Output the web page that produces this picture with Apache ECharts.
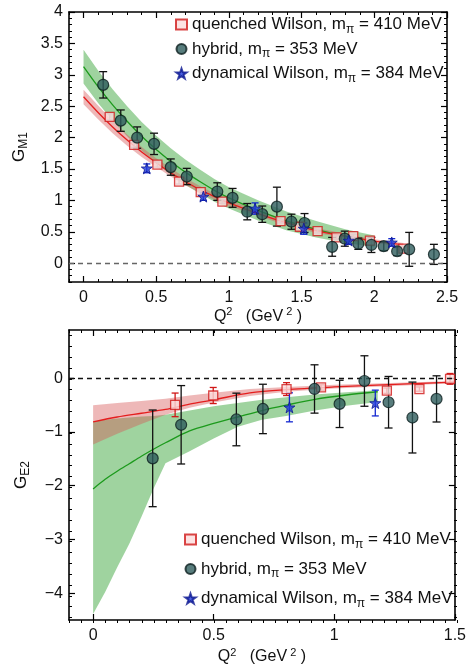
<!DOCTYPE html>
<html><head><meta charset="utf-8">
<script src="https://cdn.jsdelivr.net/npm/echarts@6/dist/echarts.min.js"></script>
<style>html,body{margin:0;padding:0;background:#fff}#c{width:469px;height:666px}</style>
</head><body><div id="c"></div><script>
// ---------- Top panel: G_M1 ----------
const nameQ = 'quenched Wilson, m_π = 410 MeV';
const nameH = 'hybrid, m_π = 353 MeV';
const nameD = 'dynamical Wilson, m_π = 384 MeV';

const m1HybX = [0.135,0.256,0.369,0.485,0.60,0.71,0.92,1.025,1.126,1.229,1.33,1.43,1.52,1.71,1.797,1.89,1.98,2.065,2.157,2.24,2.41];
const m1HybY = [2.84,2.27,2.00,1.90,1.53,1.38,1.14,1.04,0.82,0.78,0.90,0.66,0.64,0.26,0.39,0.31,0.29,0.27,0.19,0.22,0.14];
const m1HybE = [0.21,0.17,0.17,0.17,0.13,0.13,0.14,0.15,0.13,0.13,0.31,0.12,0.15,0.15,0.12,0.09,0.12,0.07,0.07,0.27,0.16];

const m1QX = [0.18,0.348,0.508,0.657,0.806,0.955,1.355,1.488,1.61,1.74,1.855,1.97,2.2];
const m1QY = [2.33,1.885,1.57,1.30,1.13,0.98,0.67,0.58,0.51,0.41,0.43,0.36,0.23];
const m1QE = [0.05,0.04,0.04,0.04,0.04,0.03,0.03,0.03,0.03,0.03,0.03,0.03,0.03];

const m1DX = [0.435,0.824,1.18,1.515,1.824,2.12];
const m1DY = [1.51,1.06,0.87,0.55,0.36,0.33];
const m1DE = [0.07,0.06,0.09,0.09,0.06,0.06];

const m1GreenX  = [0,0.1,0.2,0.3,0.4,0.5,0.6,0.7,0.8,0.9,1.0,1.2,1.4,1.6,1.8,2.0];
const m1GreenY  = [3.13,2.81,2.52,2.26,2.02,1.81,1.62,1.45,1.30,1.16,1.04,0.84,0.67,0.54,0.43,0.35];
const m1GreenUp = [3.40,3.07,2.77,2.50,2.25,2.03,1.83,1.65,1.49,1.34,1.21,1.00,0.82,0.67,0.54,0.44];
const m1GreenLo = [2.86,2.55,2.27,2.02,1.79,1.59,1.41,1.25,1.11,0.98,0.87,0.68,0.52,0.41,0.32,0.26];

const m1RedX  = [0,0.1,0.2,0.3,0.4,0.5,0.6,0.7,0.8,0.9,1.0,1.2,1.4,1.6,1.8,2.0,2.2];
const m1RedY  = [2.65,2.40,2.17,1.96,1.77,1.60,1.44,1.30,1.17,1.06,0.96,0.79,0.64,0.52,0.43,0.35,0.29];
const m1RedUp = [2.76,2.51,2.27,2.05,1.85,1.67,1.51,1.36,1.23,1.11,1.01,0.84,0.68,0.56,0.47,0.38,0.32];
const m1RedLo = [2.53,2.29,2.07,1.87,1.69,1.53,1.38,1.24,1.12,1.01,0.91,0.75,0.60,0.48,0.40,0.32,0.26];

const m1XTicks = [0,0.5,1,1.5,2,2.5];
const m1YTicks = [0,0.5,1,1.5,2,2.5,3,3.5,4];

// ---------- Bottom panel: G_E2 ----------
const e2HybX = [0.247,0.365,0.594,0.704,0.918,1.022,1.125,1.225,1.324,1.424];
const e2HybY = [-1.49,-0.865,-0.766,-0.57,-0.198,-0.476,-0.05,-0.445,-0.73,-0.383];
const e2HybE = [0.90,0.73,0.49,0.46,0.45,0.44,0.47,0.48,0.66,0.43];

const e2QX = [0.34,0.498,0.802,0.945,1.218,1.353,1.48];
const e2QY = [-0.494,-0.32,-0.20,-0.17,-0.23,-0.20,-0.01];
const e2QE = [0.22,0.15,0.12,0.05,0.05,0.04,0.10];

const e2DX = [0.814,1.17];
const e2DY = [-0.54,-0.46];
const e2DE = [0.27,0.24];

const e2RedX  = [0,0.1,0.2,0.3,0.4,0.5,0.65,0.8,1.0,1.2,1.5];
const e2RedY  = [-0.81,-0.72,-0.65,-0.58,-0.48,-0.40,-0.27,-0.21,-0.16,-0.12,-0.07];
const e2RedUp = [-0.50,-0.46,-0.42,-0.38,-0.32,-0.27,-0.20,-0.16,-0.12,-0.09,-0.05];
const e2RedLo = [-1.23,-1.03,-0.85,-0.68,-0.55,-0.45,-0.33,-0.25,-0.19,-0.15,-0.09];

const e2GreenX  = [0,0.05,0.1,0.15,0.2,0.25,0.3,0.4,0.5,0.6,0.7,0.8,0.92,1.05,1.18];
const e2GreenY  = [-2.06,-1.88,-1.73,-1.59,-1.45,-1.32,-1.20,-0.98,-0.84,-0.72,-0.60,-0.50,-0.39,-0.31,-0.25];
const e2GreenUp = [-0.81,-0.77,-0.75,-0.73,-0.71,-0.70,-0.68,-0.60,-0.52,-0.46,-0.40,-0.35,-0.30,-0.26,-0.22];
const e2GreenLo = [-4.39,-3.98,-3.52,-3.08,-2.58,-2.06,-1.58,-1.36,-1.12,-0.90,-0.77,-0.70,-0.60,-0.51,-0.44];

const e2XTicks = [0,0.5,1,1.5];
const e2YTicks = [-4,-3,-2,-1,0];

// ---------- helpers ----------
const FONT = "'Liberation Sans', Arial, sans-serif";
const STAR = 'path://M0,-10L2.35,-3.24L9.51,-3.09L3.8,1.24L5.88,8.09L0,4L-5.88,8.09L-3.8,1.24L-9.51,-3.09L-2.35,-3.24Z';
function steps(a, b, s) { const r = []; for (let v = a; v <= b + 1e-9; v += s) r.push(Math.round(v * 1000) / 1000); return r; }
function zip3(a, b, c) { return a.map((v, i) => [v, b[i], c[i]]); }
function zip2(a, b) { return a.map((v, i) => [v, b[i]]); }

function errRender(color, cap, lw) {
  return function (params, api) {
    const x = api.value(0), y = api.value(1), e = api.value(2);
    const t = api.coord([x, y + e]), b = api.coord([x, y - e]);
    const h = cap / 2, st = { stroke: color, lineWidth: lw };
    return { type: 'group', children: [
      { type: 'line', shape: { x1: t[0], y1: t[1], x2: b[0], y2: b[1] }, style: st },
      { type: 'line', shape: { x1: t[0] - h, y1: t[1], x2: t[0] + h, y2: t[1] }, style: st },
      { type: 'line', shape: { x1: b[0] - h, y1: b[1], x2: b[0] + h, y2: b[1] }, style: st }
    ]};
  };
}
function bandRender(xs, up, lo, color) {
  return function (params, api) {
    if (params.dataIndex !== 0) return null;
    const pts = [];
    for (let i = 0; i < xs.length; i++) pts.push(api.coord([xs[i], up[i]]));
    for (let i = xs.length - 1; i >= 0; i--) pts.push(api.coord([xs[i], lo[i]]));
    return { type: 'polygon', shape: { points: pts }, style: { fill: color } };
  };
}

const axisLineStyle = { color: '#000', width: 1.6 };
const labelStyle = { fontSize: 16, color: '#111', fontFamily: FONT };
function fmt(v) { return String(v).replace('-', '\u2212'); }

function xAxes(grid, min, max, major, nameGap) {
  return [
    { gridIndex: grid, type: 'value', position: 'bottom', min, max,
      axisLine: { show: true, lineStyle: axisLineStyle, onZero: false },
      axisTick: { show: true, inside: true, length: 6, customValues: major, lineStyle: { color: '#000', width: 1.2 } },
      axisLabel: { show: true, customValues: major, formatter: fmt, margin: 8, ...labelStyle },
      splitLine: { show: false },
      name: '{a|Q}{sup|2}{a|   (GeV}{sup| 2}{a| )}', nameLocation: 'middle', nameGap: nameGap,
      nameTextStyle: { fontSize: 16, color: '#111', fontFamily: FONT,
        rich: { a: { fontSize: 16, fontFamily: FONT, color: '#111' }, sup: { fontSize: 11, fontFamily: FONT, color: '#111', padding: [0, 0, 9, 0] } } } },
    { gridIndex: grid, type: 'value', position: 'top', min, max,
      axisLine: { show: true, lineStyle: axisLineStyle, onZero: false },
      axisTick: { show: true, inside: true, length: 6, customValues: major, lineStyle: { color: '#000', width: 1.2 } },
      axisLabel: { show: false }, splitLine: { show: false } }
  ];
}
function minorX(grid, min, max, minor) {
  return ['bottom', 'top'].map(p => ({ gridIndex: grid, type: 'value', position: p, min, max,
    axisLine: { show: false, onZero: false }, axisLabel: { show: false }, splitLine: { show: false },
    axisTick: { show: true, inside: true, length: 3, customValues: minor, lineStyle: { color: '#000', width: 1 } } }));
}
function yAxes(grid, min, max, major, nm) {
  return [
    { gridIndex: grid, type: 'value', position: 'left', min, max,
      axisLine: { show: true, lineStyle: axisLineStyle, onZero: false },
      axisTick: { show: true, inside: true, length: 6, customValues: major, lineStyle: { color: '#000', width: 1.2 } },
      axisLabel: { show: true, customValues: major, formatter: fmt, margin: 6, ...labelStyle },
      splitLine: { show: false },
      name: nm, nameLocation: 'middle', nameRotate: 90, nameGap: 37,
      nameTextStyle: { fontSize: 16, color: '#111', fontFamily: FONT,
        rich: { a: { fontSize: 17, fontFamily: FONT, color: '#111' }, sub: { fontSize: 12, fontFamily: FONT, color: '#111', padding: [9, 0, 0, 0] } } } },
    { gridIndex: grid, type: 'value', position: 'right', min, max,
      axisLine: { show: true, lineStyle: axisLineStyle, onZero: false },
      axisTick: { show: true, inside: true, length: 6, customValues: major, lineStyle: { color: '#000', width: 1.2 } },
      axisLabel: { show: false }, splitLine: { show: false } }
  ];
}
function minorY(grid, min, max, minor) {
  return ['left', 'right'].map(p => ({ gridIndex: grid, type: 'value', position: p, min, max,
    axisLine: { show: false, onZero: false }, axisLabel: { show: false }, splitLine: { show: false },
    axisTick: { show: true, inside: true, length: 3, customValues: minor, lineStyle: { color: '#000', width: 1 } } }));
}

const grids = [
  { left: 69, top: 12, width: 378, height: 270 },
  { left: 69, top: 330, width: 388, height: 293 },
  { left: 69, top: 12, width: 378, height: 270 },
  { left: 69, top: 330, width: 388, height: 293 }
];

const xAxis = [
  ...xAxes(0, -0.1, 2.5, m1XTicks, 22),
  ...xAxes(1, -0.1, 1.5, e2XTicks, 27),
  ...minorX(2, -0.1, 2.5, steps(-0.1, 2.5, 0.1)),
  ...minorX(3, -0.1, 1.5, steps(-0.1, 1.5, 0.05))
];
const yAxis = [
  ...yAxes(0, -0.3, 4, m1YTicks, '{a|G}{sub|M1}'),
  ...yAxes(1, -4.5, 0.9, e2YTicks, '{a|G}{sub|E2}'),
  ...minorY(2, -0.3, 4, steps(-0.3, 4, 0.1)),
  ...minorY(3, -4.5, 0.9, steps(-4.4, 0.8, 0.2))
];

const greenBand = 'rgba(70,170,70,0.52)';
const redBand = 'rgba(215,85,85,0.42)';
const greenLine = '#1c9a1c';
const redLine = '#e41e1e';
const qStyle = { color: '#fbdcdc', borderColor: '#d01818', borderWidth: 1.3 };
const hStyle = { color: '#2e5c5c', borderColor: '#0d1f1f', borderWidth: 1.2 };
const dStyle = { color: '#1f3ad8', borderColor: '#0c1890', borderWidth: 1 };

function panelSeries(xi, yi, d, zeroColor, zeroType, qErrColor) {
  return [
    { type: 'custom', xAxisIndex: xi, yAxisIndex: yi, renderItem: bandRender(d.gX, d.gUp, d.gLo, greenBand), data: zip2(d.gX, d.gUp), silent: true, z: 1 },
    { type: 'custom', xAxisIndex: xi, yAxisIndex: yi, renderItem: bandRender(d.rX, d.rUp, d.rLo, redBand), data: zip2(d.rX, d.rUp), silent: true, z: 1 },
    { type: 'line', xAxisIndex: xi, yAxisIndex: yi, data: zip2(d.gX, d.gY), showSymbol: false, smooth: 0.3,
      lineStyle: { color: greenLine, width: 1.3 }, z: 2, silent: true,
      markLine: { silent: true, symbol: 'none', label: { show: false }, data: [{ yAxis: 0 }],
        lineStyle: { color: zeroColor, type: zeroType, width: 1.3 } } },
    { type: 'line', xAxisIndex: xi, yAxisIndex: yi, data: zip2(d.rX, d.rY), showSymbol: false, smooth: 0.3,
      lineStyle: { color: redLine, width: 1.3 }, z: 2, silent: true },
    { type: 'custom', xAxisIndex: xi, yAxisIndex: yi, renderItem: errRender(qErrColor, 7, 1.3), data: zip3(d.qX, d.qY, d.qE), z: 3 },
    { type: 'custom', xAxisIndex: xi, yAxisIndex: yi, renderItem: errRender('#111', 8, 1.3), data: zip3(d.hX, d.hY, d.hE), z: 3 },
    { type: 'custom', xAxisIndex: xi, yAxisIndex: yi, renderItem: errRender('#1428d0', 7, 1.3), data: zip3(d.dX, d.dY, d.dE), z: 3 },
    { name: nameQ, type: 'scatter', xAxisIndex: xi, yAxisIndex: yi, symbol: 'rect', symbolSize: 9, itemStyle: qStyle, data: zip2(d.qX, d.qY), z: 4 },
    { name: nameH, type: 'scatter', xAxisIndex: xi, yAxisIndex: yi, symbol: 'circle', symbolSize: 11, itemStyle: hStyle, data: zip2(d.hX, d.hY), z: 5 },
    { name: nameD, type: 'scatter', xAxisIndex: xi, yAxisIndex: yi, symbol: STAR, symbolSize: 11, itemStyle: dStyle, data: zip2(d.dX, d.dY), z: 6 }
  ];
}

const panelTop = { gX: m1GreenX, gY: m1GreenY, gUp: m1GreenUp, gLo: m1GreenLo, rX: m1RedX, rY: m1RedY, rUp: m1RedUp, rLo: m1RedLo,
  qX: m1QX, qY: m1QY, qE: m1QE, hX: m1HybX, hY: m1HybY, hE: m1HybE, dX: m1DX, dY: m1DY, dE: m1DE };
const panelBot = { gX: e2GreenX, gY: e2GreenY, gUp: e2GreenUp, gLo: e2GreenLo, rX: e2RedX, rY: e2RedY, rUp: e2RedUp, rLo: e2RedLo,
  qX: e2QX, qY: e2QY, qE: e2QE, hX: e2HybX, hY: e2HybY, hE: e2HybE, dX: e2DX, dY: e2DY, dE: e2DE };

const legendRich = {
  t: { fontSize: 17, fontFamily: FONT, color: '#111' },
  s: { fontSize: 12, fontFamily: FONT, color: '#111', padding: [10, 0, 0, 0] }
};
function legendFmt(name) {
  const parts = name.split('m_π');
  return '{t|' + parts[0] + 'm}{s|π}{t|' + parts[1] + '}';
}
const legendBase = {
  orient: 'vertical', itemWidth: 11, itemHeight: 10, itemGap: 5, selectedMode: false,
  data: [nameQ, nameH, nameD], formatter: legendFmt,
  textStyle: { fontSize: 17, fontFamily: FONT, color: '#111', rich: legendRich }
};

const option = {
  animation: false,
  backgroundColor: '#fff',
  grid: grids,
  xAxis, yAxis,
  legend: [
    { ...legendBase, left: 170, top: 11 },
    { ...legendBase, left: 179, top: 526, itemGap: 10 }
  ],
  series: [
    ...panelSeries(0, 0, panelTop, '#666', [5, 4], '#8a8a8a'),
    ...panelSeries(2, 2, panelBot, '#111', [5, 4], '#d01818')
  ]
};
const chart = echarts.init(document.getElementById('c'));
chart.setOption(option);
</script></body></html>
